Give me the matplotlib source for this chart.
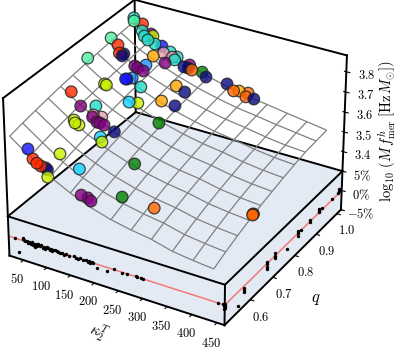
import matplotlib
matplotlib.use('Agg')
import matplotlib.pyplot as plt
import numpy as np
from mpl_toolkits.mplot3d.art3d import Poly3DCollection

plt.rcParams['mathtext.fontset'] = 'cm'
plt.rcParams['font.family'] = 'cmr10'
plt.rcParams['axes.formatter.use_mathtext'] = True

# fit surface
kappa_grid = [25, 66, 108, 149, 190, 232, 273, 314, 356, 397, 438]
q_grid = [0.50, 0.55, 0.60, 0.65, 0.70, 0.75, 0.80, 0.85, 0.90, 0.95, 1.00]
logf_grid = [
    [3.690, 3.620, 3.550, 3.500, 3.460, 3.430, 3.410, 3.395, 3.368, 3.355, 3.345],
    [3.705, 3.637, 3.571, 3.523, 3.485, 3.456, 3.436, 3.421, 3.396, 3.383, 3.373],
    [3.718, 3.652, 3.589, 3.544, 3.507, 3.478, 3.458, 3.443, 3.420, 3.407, 3.398],
    [3.730, 3.665, 3.606, 3.562, 3.527, 3.499, 3.479, 3.464, 3.442, 3.429, 3.420],
    [3.741, 3.677, 3.620, 3.578, 3.544, 3.516, 3.496, 3.482, 3.461, 3.448, 3.440],
    [3.750, 3.687, 3.633, 3.593, 3.559, 3.532, 3.512, 3.498, 3.478, 3.465, 3.457],
    [3.759, 3.697, 3.645, 3.606, 3.573, 3.547, 3.527, 3.513, 3.494, 3.481, 3.473],
    [3.766, 3.705, 3.655, 3.617, 3.586, 3.560, 3.540, 3.525, 3.507, 3.494, 3.487],
    [3.773, 3.712, 3.664, 3.628, 3.596, 3.571, 3.551, 3.537, 3.519, 3.506, 3.499],
    [3.779, 3.719, 3.673, 3.637, 3.606, 3.581, 3.561, 3.547, 3.531, 3.518, 3.505],
    [3.784, 3.725, 3.680, 3.645, 3.615, 3.590, 3.570, 3.556, 3.540, 3.525, 3.510],
]

TURQ, SPRING, RED, YG, NAVY, BLUE, DODGER, CYAN = '#20dcc8', '#50f0a0', '#ff2800', '#c8f000', '#0a0a80', '#1414ff', '#1e90ff', '#10d0ff'
PURPLE, PINK, GREEN, ORANGE, DORANGE = '#800080', '#e8a0b0', '#008000', '#ffa500', '#ff6400'

# simulations
sim_kappa = [20, 24, 37, 46, 54, 63, 76, 63, 59, 87,
             91, 98, 106, 115, 121, 122, 113, 81, 98, 87,
             93, 89, 93, 143, 148, 150, 158, 175, 186,
             160, 178, 160, 184, 184, 115, 119, 132, 137, 126, 134,
             202, 135, 96, 57, 72, 80, 87, 94, 98, 106,
             42, 68, 76, 81, 87, 85, 93, 94, 104, 109, 117, 104,
             68, 72, 87, 20, 20, 37, 48, 54, 55,
             165, 176, 184, 223, 283, 437, 437, 437,
             225, 245, 253, 268, 271, 286]
sim_q = [1.016, 1.009, 1.020, 1.000, 0.993, 0.991, 0.996, 1.013, 1.013, 1.004,
         0.958, 0.989, 1.002, 0.993, 1.002, 0.989, 0.965, 0.898, 0.900, 0.898,
         0.922, 0.849, 0.863, 0.987, 1.002, 0.991, 0.991, 1.002, 0.996,
         0.918, 0.918, 0.854, 0.863, 0.794, 0.856, 0.798, 0.809, 0.701, 0.665, 0.656,
         0.656, 0.563, 0.561, 0.510, 0.501, 0.501, 0.503, 0.508, 0.508, 0.494,
         0.710, 0.698, 0.656, 0.650, 0.654, 0.727, 0.701, 0.696, 0.694, 0.696, 0.698, 0.714,
         0.796, 0.796, 0.847, 0.820, 0.918, 0.914, 0.898, 0.905, 0.896,
         0.512, 0.517, 0.514, 0.563, 0.574, 0.670, 0.669, 0.667,
         1.009, 0.996, 1.004, 1.013, 0.996, 1.000]
sim_logf = [3.792, 3.785, 3.768, 3.756, 3.741, 3.729, 3.712, 3.729, 3.737, 3.701,
            3.695, 3.687, 3.685, 3.673, 3.669, 3.667, 3.668, 3.694, 3.678, 3.688,
            3.684, 3.679, 3.674, 3.647, 3.646, 3.642, 3.637, 3.627, 3.615,
            3.626, 3.607, 3.611, 3.594, 3.575, 3.650, 3.632, 3.625, 3.590, 3.592, 3.582,
            3.521, 3.543, 3.592, 3.640, 3.611, 3.596, 3.585, 3.576, 3.569, 3.553,
            3.716, 3.674, 3.651, 3.646, 3.636, 3.658, 3.644, 3.639, 3.623, 3.620, 3.613, 3.628,
            3.691, 3.688, 3.680, 3.766, 3.778, 3.757, 3.738, 3.731, 3.730,
            3.489, 3.478, 3.471, 3.468, 3.446, 3.429, 3.429, 3.427,
            3.593, 3.583, 3.580, 3.571, 3.570, 3.565]
sim_colors = [TURQ, SPRING, RED, TURQ, TURQ, TURQ, TURQ, YG, PURPLE, BLUE,
              ORANGE, PINK, TURQ, PINK, TURQ, TURQ, PURPLE, PURPLE, PURPLE, PURPLE,
              DODGER, BLUE, DODGER, NAVY, PURPLE, NAVY, DORANGE, GREEN, NAVY,
              ORANGE, NAVY, ORANGE, NAVY, GREEN, TURQ, CYAN, YG, NAVY, CYAN, YG,
              GREEN, CYAN, YG, BLUE, RED, RED, RED, NAVY, NAVY, YG,
              RED, PURPLE, YG, YG, YG, TURQ, PINK, PURPLE, PURPLE, PURPLE, PURPLE, PINK,
              YG, YG, BLUE, SPRING, SPRING, RED, RED, NAVY, NAVY,
              PURPLE, PURPLE, PURPLE, GREEN, DORANGE, DORANGE, DORANGE, DORANGE,
              NAVY, DORANGE, ORANGE, DORANGE, DORANGE, NAVY]

# residuals on the side panels, in percent
panel_kappa = [34, 52, 41, 50, 53, 56, 59, 61, 63, 66, 68, 71, 72, 74, 76, 78, 81, 83, 86, 90, 94, 96, 98, 101, 103, 105, 108, 110, 112, 115, 119, 122, 126, 130, 133, 137, 142, 148, 158, 162, 167, 171, 177, 184, 187, 191, 193, 196, 198, 207, 227, 241, 259, 268, 287, 289, 297, 301, 452, 462, 463, 464]
panel_kappa_err = [0.0, 0.75, -3.2, 0.3, 0.2, 0.0, 0.3, -0.3, 0.2, 0.0, -0.3, 0.3, -0.2, 0.0, -0.7, 0.2, -0.3, 0.3, 0.0, 0.3, -0.2, 0.2, -0.3, 0.4, 0.0, 0.3, -0.2, 0.2, -0.3, 0.0, 0.1, 0.0, 0.1, 0.0, -0.1, -0.3, 0.1, -0.1, 0.1, -0.1, -0.1, 0.2, 0.0, 0.1, -0.1, 0.2, -0.2, 0.1, 0.0, -1.0, -1.0, 0.2, -0.2, 0.0, 0.25, -0.1, 0.1, -0.1, 0.0, 0.2, -0.4, -1.0]
panel_q = [0.493, 0.493, 0.493, 0.548, 0.573, 0.573, 0.573, 0.674, 0.674, 0.674, 0.674, 0.709, 0.709, 0.709, 0.762, 0.811, 0.811, 0.811, 0.827, 0.866, 0.866, 0.910, 0.910, 0.910, 0.924, 0.971, 1.004, 1.004, 1.004]
panel_q_err = [0.2, -0.4, -1.0, -3.5, -0.4, -1.0, -1.6, 0.3, -0.3, -0.9, -1.4, 0.6, 0.0, -0.5, -1.3, 0.7, 0.2, -0.5, 0.0, 0.4, 0.1, 1.1, 0.6, 0.1, 0.6, 0.3, 1.2, 0.7, 0.2]

kappa_ticks = [50, 100, 150, 200, 250, 300, 350, 400, 450]
q_ticks = [0.6, 0.7, 0.8, 0.9, 1.0]
z_tick_labels = [r'$-5\%$', r'$0\%$', r'$5\%$', '$3.4$', '$3.5$', '$3.6$', '$3.7$', '$3.8$']

XLIM = (20, 465)
YLIM = (0.49, 1.02)
ZLIM = (0, 7.8)
Z_PLANE = 2


def logf_to_z(v):
    return 3 + (np.asarray(v) - 3.4) * 10


def err_to_z(v):
    return 1 + np.asarray(v) / 5


fig = plt.figure(figsize=(3.99, 3.5), dpi=100)
ax = fig.add_axes([-26.5 / 399, 14.5 / 350, 1, 1], projection='3d', computed_zorder=False)
ax.set_proj_type('persp', focal_length=1.3)
ax.set_xlim(*XLIM, view_margin=0)
ax.set_ylim(*YLIM, view_margin=0)
ax.set_zlim(*ZLIM, view_margin=0)
ax.set_box_aspect((241.6, 240.7, 176), zoom=1.089)
ax.view_init(elev=30.1, azim=-59.8)
ax.patch.set_alpha(0)
ax.grid(False)
for axis in (ax.xaxis, ax.yaxis, ax.zaxis):
    axis.set_pane_color((1, 1, 1, 0))
    axis.line.set_color((0, 0, 0, 0))

x0, x1 = XLIM
y0, y1 = YLIM
z0, z1 = ZLIM
zp = Z_PLANE
faces = [
    [(x0, y0, zp), (x1, y0, zp), (x1, y1, zp), (x0, y1, zp)],
    [(x0, y0, z0), (x1, y0, z0), (x1, y0, zp), (x0, y0, zp)],
    [(x1, y0, z0), (x1, y1, z0), (x1, y1, zp), (x1, y0, zp)],
]
ax.add_collection3d(Poly3DCollection(faces, facecolor='#e4eaf4', edgecolor='none', zorder=1))

edges = [
    [(x0, y0, z0), (x0, y0, z1)], [(x1, y1, z0), (x1, y1, z1)], [(x0, y1, zp), (x0, y1, z1)],
    [(x0, y0, z1), (x0, y1, z1)], [(x0, y1, z1), (x1, y1, z1)],
    [(x0, y0, zp), (x1, y0, zp)], [(x1, y0, zp), (x1, y1, zp)], [(x0, y0, zp), (x0, y1, zp)],
    [(x0, y1, zp), (x1, y1, zp)],
    [(x0, y0, z0), (x1, y0, z0)], [(x1, y0, z0), (x1, y1, z0)], [(x1, y0, z0), (x1, y0, zp)],
]
for a, b in edges:
    ax.plot(*zip(a, b), color='k', lw=1.4, zorder=3)

K, Q = np.meshgrid(kappa_grid, q_grid)
ax.plot_wireframe(K, Q, logf_to_z(logf_grid), color='#808080', lw=0.9, zorder=4)

ax.plot([x0, x1], [y0, y0], [1, 1], color='#f08080', lw=1.2, zorder=2)
ax.plot([x1, x1], [y0, y1], [1, 1], color='#f08080', lw=1.2, zorder=2)
ax.scatter(panel_kappa, [y0] * len(panel_kappa), err_to_z(panel_kappa_err), c='k', s=6, linewidths=0, depthshade=False, zorder=5)
ax.scatter([x1] * len(panel_q), panel_q, err_to_z(panel_q_err), c='k', s=6, linewidths=0, depthshade=False, zorder=5)

ax.scatter(sim_kappa, sim_q, logf_to_z(sim_logf), c=sim_colors, s=70, alpha=0.8,
           edgecolors='#202020', linewidths=0.9, depthshade=False, zorder=6)

ax.set_xticks(kappa_ticks)
ax.set_xticklabels([f'${v}$' for v in kappa_ticks], fontsize=9, va='top')
ax.set_yticks(q_ticks)
ax.set_yticklabels([f'${v}$' for v in q_ticks], fontsize=9, va='top')
ax.set_zticks(range(len(z_tick_labels)))
ax.set_zticklabels(z_tick_labels, fontsize=9)
ax.tick_params(axis='x', pad=-2)
ax.tick_params(axis='y', pad=-1.5)
ax.tick_params(axis='z', pad=0)

fig.text(99 / 399, 1 - 333 / 350, r'$\kappa_2^T$', fontsize=11, ha='center', va='center', rotation=-20)
fig.text(316 / 399, 1 - 299 / 350, r'$q$', fontsize=12, ha='center', va='center')
fig.text(387 / 399, 1 - 131 / 350, r'$\log_{10}\,(M\,f^{h}_{\mathrm{mer}}\;[\mathrm{Hz}\,M_{\odot}])$',
         fontsize=10.5, ha='center', va='center', rotation=90)

fig.savefig('out.png', dpi=100)
